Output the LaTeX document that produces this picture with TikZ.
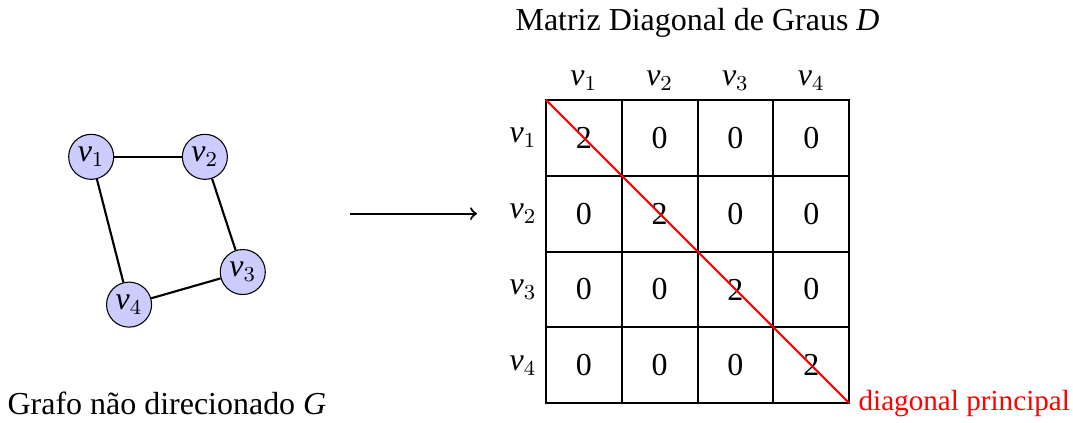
\documentclass[tikz,border=0pt]{standalone}
\usepackage{fontspec}
\setmainfont{Liberation Serif}
\usepackage{xcolor}
\usetikzlibrary{positioning}

\begin{document}
\begin{tikzpicture}[
  font=\fontsize{12}{14}\selectfont,
  vert/.style={circle, draw=black, thin, fill=blue!20, minimum size=0.594cm, inner sep=0pt},
  edge/.style={thick},
  cell/.style={rectangle, draw=black, thick, minimum size=1cm, inner sep=0pt, outer sep=0pt},
  ar/.style={->, thick},
  node distance=0pt
]
  \useasboundingbox (-7.203,-4.261) rectangle (6.953,1.319);

  \node[vert] (v1) at (-6.0,-0.75) {$\mathit{v}_1$};
  \node[vert] (v2) at (-4.5,-0.75) {$\mathit{v}_2$};
  \node[vert] (v3) at (-4.0,-2.27) {$\mathit{v}_3$};
  \node[vert] (v4) at (-5.5,-2.70) {$\mathit{v}_4$};
  \draw[edge] (v1) -- (v2); \draw[edge] (v2) -- (v3);
  \draw[edge] (v3) -- (v4); \draw[edge] (v4) -- (v1);
  \node (glabel) at (-5.0,-4.0) {Grafo não direcionado \textit{G}};

  \coordinate (a0) at (-2.59,-1.5);
  \coordinate (a1) at (-0.91,-1.5);
  \draw[ar] (a0) -- (a1);

  \foreach \i in {1,...,4}
    \foreach \j in {1,...,4} {
      \pgfmathtruncatemacro\val{(\i==\j)*2}
      \node[cell] (c\i\j) at (\j-0.5,-\i+0.5) {\val};
    }
  \foreach \k in {1,...,4} {
    \node[above=of c1\k] (col\k) {$\mathit{v}_\k$};
    \node[left=of c\k1]  (row\k) {$\mathit{v}_\k$};
  }
  \node (title) at (2.0,1.02) {Matriz Diagonal de Graus \textit{D}};

  \draw[red, thick] (c11.north west) -- (c44.south east);
  \node[red, font=\fontsize{10.95}{13}\selectfont, right=of c44.south east] (diag) {diagonal principal};
\end{tikzpicture}
\end{document}
